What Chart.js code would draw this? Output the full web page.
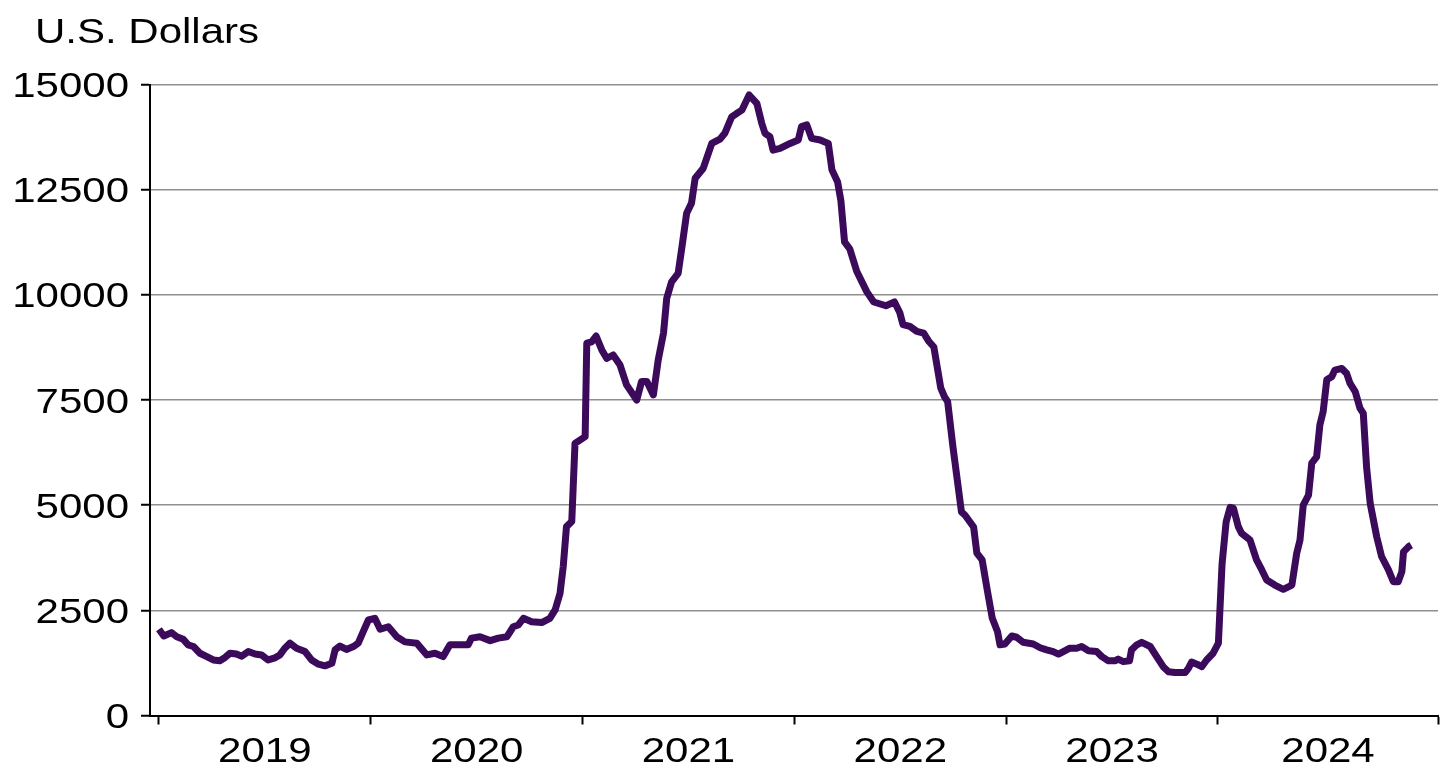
<!DOCTYPE html>
<html>
<head>
<meta charset="utf-8">
<script src="https://cdn.jsdelivr.net/npm/chart.js@4/dist/chart.umd.min.js"></script>
<style>
    body { margin: 0; background: #fff; }
    #wrap { width: 1445px; height: 772px; position: relative; }
</style>
</head>
<body>
<div id="wrap"><canvas id="priceChart"></canvas></div>
<script>
// ============================================================
// DATA - weeks counted from the first week of January 2019
// ============================================================
const weeks = [
    0, 1.2, 3.1, 4.4, 6.0, 7.2, 8.5, 10.1, 11.8, 13.4,
    15.0, 16.3, 17.5, 19.1, 20.4, 22.0, 23.7, 25.3, 26.9, 28.6,
    29.8, 31.0, 32.3, 33.9, 36.0, 37.6, 39.3, 40.9, 42.6, 43.4,
    44.6, 46.2, 47.9, 49.1, 50.3, 51.6, 53.2, 54.5, 56.5, 58.6,
    60.6, 63.5, 66.0, 68.0, 70.0, 71.7, 74.2, 76.2, 77.0, 79.1,
    81.6, 83.6, 85.7, 87.3, 88.5, 89.8, 91.8, 94.3, 96.3, 97.6,
    98.8, 99.6, 100.4, 101.7, 102.5, 105.0, 105.4, 106.6, 107.7, 109.1,
    110.3, 111.9, 113.6, 115.2, 117.7, 118.9, 120.2, 121.8, 123.0, 124.3,
    125.1, 126.3, 127.9, 128.8, 130.0, 131.2, 132.1, 134.1, 136.2, 138.2,
    139.4, 141.1, 142.3, 143.6, 145.4, 147.3, 148.5, 149.3, 150.5, 151.3,
    153.0, 155.5, 157.5, 158.3, 159.6, 160.8, 162.9, 164.9, 165.8, 167.2,
    168.0, 168.9, 170.2, 171.9, 174.4, 176.1, 179.1, 181.2, 182.5, 183.3,
    185.0, 186.7, 188.4, 189.7, 190.9, 192.6, 193.5, 194.3, 195.6, 197.7,
    198.6, 200.7, 201.5, 202.8, 204.1, 205.3, 206.6, 207.2, 208.4, 210.1,
    211.3, 212.9, 215.4, 217.1, 218.7, 220.3, 221.6, 222.8, 224.4, 226.1,
    227.3, 229.0, 231.0, 232.3, 233.9, 235.5, 236.3, 237.6, 239.1, 239.6,
    240.9, 242.1, 244.2, 245.8, 247.4, 248.7, 250.3, 252.8, 253.6, 254.4,
    255.7, 256.9, 258.1, 259.7, 261.0, 261.9, 262.9, 263.9, 264.7, 265.9,
    266.7, 268.8, 270.4, 271.7, 272.9, 274.9, 277.0, 279.1, 280.3, 281.1,
    281.9, 283.2, 284.0, 285.2, 286.0, 286.8, 287.7, 288.9, 289.7, 291.4,
    292.6, 293.4, 294.7, 295.9, 296.7, 297.5, 298.4, 300.0, 301.2, 302.9,
    304.1, 305.3, 306.2, 306.6, 307.8, 308.5
];

const prices = [
    2050, 1890, 1970, 1870, 1810, 1680, 1640, 1480, 1400, 1320,
    1300, 1380, 1480, 1460, 1410, 1520, 1460, 1440, 1320, 1370,
    1440, 1600, 1720, 1600, 1520, 1320, 1220, 1180, 1240, 1560,
    1650, 1570, 1640, 1720, 1990, 2270, 2310, 2050, 2110, 1870,
    1750, 1720, 1440, 1480, 1400, 1680, 1680, 1680, 1840, 1870,
    1780, 1840, 1870, 2110, 2150, 2310, 2230, 2210, 2310, 2510,
    2900, 3540, 4490, 4610, 6470, 6630, 8850, 8880, 9020, 8690,
    8490, 8570, 8330, 7860, 7500, 7940, 7940, 7620, 8450, 9090,
    9920, 10310, 10510, 11110, 11940, 12180, 12770, 13010, 13600, 13700,
    13840, 14230, 14310, 14390, 14750, 14550, 14080, 13840, 13760, 13440,
    13480, 13600, 13680, 14000, 14040, 13720, 13680, 13600, 12970, 12680,
    12240, 11260, 11090, 10560, 10070, 9830, 9740, 9830, 9580, 9290,
    9250, 9130, 9090, 8890, 8760, 7790, 7580, 7460, 6390, 4840,
    4760, 4480, 3860, 3700, 2960, 2310, 1990, 1680, 1700, 1890,
    1860, 1740, 1700, 1610, 1560, 1520, 1460, 1520, 1600, 1600,
    1640, 1540, 1520, 1400, 1300, 1300, 1340, 1280, 1300, 1560,
    1680, 1740, 1640, 1400, 1160, 1040, 1020, 1020, 1120, 1270,
    1220, 1160, 1320, 1480, 1720, 3600, 4600, 4950, 4930, 4490,
    4330, 4170, 3700, 3460, 3220, 3100, 3000, 3100, 3860, 4170,
    5000, 5240, 6000, 6150, 6910, 7220, 7980, 8050, 8210, 8250,
    8130, 7900, 7700, 7300, 7180, 5910, 5040, 4250, 3780, 3460,
    3180, 3180, 3420, 3890, 4010, 4050
];

const yearLabels = ['2019', '2020', '2021', '2022', '2023', '2024'];
const yearStarts = [0, 52.18, 104.36, 156.54, 208.72, 260.9];
const yTicks = [0, 2500, 5000, 7500, 10000, 12500, 15000];
const unitLabel = 'U.S. Dollars';

const X_MIN = -2.2;
const X_MAX = 315.1;
const FONT = '35px "Liberation Sans", Arial, sans-serif';
const STRETCH = 1.2;   // reference text is drawn a little wide

// ============================================================
// TEXT - wide Arial-like labels placed from the scales
// ============================================================
function drawWide(ctx, text, px, py) {
    ctx.save();
    ctx.translate(px, py);
    ctx.scale(STRETCH, 1);
    ctx.fillText(text, 0, 0);
    ctx.restore();
}

const wideLabels = {
    id: 'wideLabels',
    afterDraw(chart) {
        const ctx = chart.ctx;
        const xs = chart.scales.x;
        const ys = chart.scales.y;
        ctx.save();
        ctx.fillStyle = '#000';
        ctx.font = FONT;
        ctx.textBaseline = 'alphabetic';

        // y tick labels
        ctx.textAlign = 'right';
        yTicks.forEach(v => {
            drawWide(ctx, String(v), xs.left - 21, ys.getPixelForValue(v) + 12.5);
        });

        // year labels, centred between year ticks
        ctx.textAlign = 'center';
        yearLabels.forEach((lbl, i) => {
            const a = xs.getPixelForValue(yearStarts[i]);
            const b = xs.getPixelForValue(i + 1 < yearStarts.length ? yearStarts[i + 1] : X_MAX);
            drawWide(ctx, lbl, (a + b) / 2, 762);
        });

        // unit label
        ctx.textAlign = 'left';
        drawWide(ctx, unitLabel, 35, 43);
        ctx.restore();
    }
};

// ============================================================
// CHART
// ============================================================
const ctx = document.getElementById('priceChart');

new Chart(ctx.getContext('2d'), {
    type: 'line',
    data: {
        datasets: [{
            data: weeks.map((w, i) => ({ x: w, y: prices[i] })),
            borderColor: '#3b0a5a',
            borderWidth: 7,
            borderJoinStyle: 'round',
            borderCapStyle: 'butt',
            pointRadius: 0,
            tension: 0,
            fill: false
        }]
    },
    options: {
        responsive: true,
        maintainAspectRatio: false,
        animation: false,
        layout: { padding: { top: 84.5, right: 7, bottom: 0, left: 0 } },
        plugins: {
            legend: { display: false },
            tooltip: { enabled: false }
        },
        scales: {
            x: {
                type: 'linear',
                min: X_MIN,
                max: X_MAX,
                afterBuildTicks: s => {
                    s.ticks = yearStarts.concat([X_MAX]).map(v => ({ value: v }));
                },
                afterFit: s => { s.height = 56.5; },
                ticks: { display: false },
                grid: {
                    drawOnChartArea: false,
                    tickLength: 9,
                    tickColor: '#000',
                    tickWidth: 2
                },
                border: { color: '#000', width: 2 }
            },
            y: {
                min: 0,
                max: 15000,
                afterBuildTicks: s => {
                    s.ticks = yTicks.map(v => ({ value: v }));
                },
                afterFit: s => { s.width = 150; },
                ticks: { display: false },
                grid: {
                    color: '#8f8f8f',
                    lineWidth: 1.5,
                    tickLength: 9,
                    tickColor: '#000',
                    tickWidth: 2
                },
                border: { color: '#000', width: 2 }
            }
        }
    },
    plugins: [wideLabels]
});
</script>
</body>
</html>
